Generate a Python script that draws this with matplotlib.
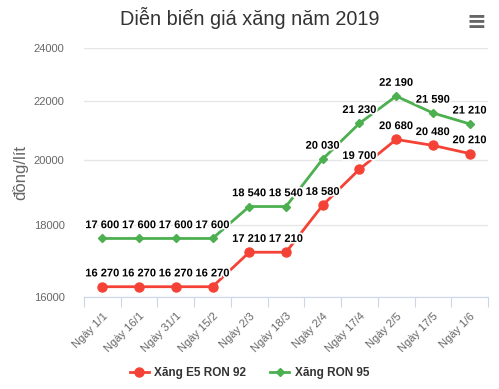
import matplotlib
matplotlib.use("Agg")
import matplotlib.pyplot as plt
import matplotlib.patheffects as pe
from matplotlib.ticker import FixedLocator, NullLocator, FuncFormatter
import numpy as np

plt.rcParams['font.family'] = ['Liberation Sans', 'DejaVu Sans']

# data
dates = ["Ngày 1/1", "Ngày 16/1", "Ngày 31/1", "Ngày 15/2", "Ngày 2/3", "Ngày 18/3",
         "Ngày 2/4", "Ngày 17/4", "Ngày 2/5", "Ngày 17/5", "Ngày 1/6"]
e5_ron92 = [16270, 16270, 16270, 16270, 17210, 17210, 18580, 19700, 20680, 20480, 20210]
ron95 = [17600, 17600, 17600, 17600, 18540, 18540, 20030, 21230, 22190, 21590, 21210]
y_ticks = [16000, 18000, 20000, 22000, 24000]

red = '#F44336'
green = '#4CAF50'

fig = plt.figure(figsize=(4.99, 3.89), dpi=100)
ax = fig.add_axes([84 / 499, 1 - 297 / 389, 404 / 499, 249 / 389])

x = np.arange(len(dates))
ax.plot(x, e5_ron92, color=red, lw=2, marker='o', ms=6.5, label='Xăng E5 RON 92', zorder=3)
ax.plot(x, ron95, color=green, lw=2, marker='D', ms=4.5, label='Xăng RON 95', zorder=3)


def fmt(v):
    return f"{v:,}".replace(",", " ")


# data labels with a white outline, like the original
outline = [pe.withStroke(linewidth=2.5, foreground='white')]
for series in (e5_ron92, ron95):
    for i, v in enumerate(series):
        ax.annotate(fmt(v), (i, v), xytext=(0, 6), textcoords='offset points',
                    ha='center', va='bottom', fontsize=8, fontweight='bold',
                    color='black', path_effects=outline, zorder=4)

# the y axis is logarithmic
ax.set_yscale('log')
ax.set_ylim(16000, 24000)
ax.yaxis.set_major_locator(FixedLocator(y_ticks))
ax.yaxis.set_minor_locator(NullLocator())
ax.yaxis.set_major_formatter(FuncFormatter(lambda v, p: f"{int(v)}"))

ax.set_xlim(-0.5, len(dates) - 0.5)
# tick marks sit between categories, labels at the category centres
ax.set_xticks(np.append(x - 0.5, len(dates) - 0.5))
ax.set_xticklabels([])
ax.set_xticks(x, minor=True)
ax.set_xticklabels(dates, minor=True, rotation=45, ha='right', rotation_mode='anchor')

ax.grid(axis='y', color='#e6e6e6', lw=1)
ax.set_axisbelow(True)
for s in ('top', 'right', 'left'):
    ax.spines[s].set_visible(False)
ax.spines['bottom'].set_color('#ccd6eb')
ax.tick_params(axis='y', length=0, labelsize=8, labelcolor='#666666', pad=14)
ax.tick_params(axis='x', which='major', length=7, color='#ccd6eb')
ax.tick_params(axis='x', which='minor', length=0, labelsize=8, labelcolor='#666666', pad=10)

ax.set_ylabel('đồng/lít', fontsize=12, color='#666666', labelpad=4)

fig.text(0.5, 1 - 18 / 389, 'Diễn biến giá xăng năm 2019', ha='center', va='center',
         fontsize=14.3, color='#333333')
fig.text(476 / 499, 1 - 22 / 389, '≡', ha='center', va='center', fontsize=17,
         color='#666666', fontweight='bold', family='DejaVu Sans')

leg = fig.legend(loc='center', bbox_to_anchor=(0.5, 1 - 373 / 389), ncol=2, frameon=False,
                 prop={'size': 8.5, 'weight': 'bold'}, handlelength=1.6, columnspacing=2.0,
                 handletextpad=0.5)
for t in leg.get_texts():
    t.set_color('#333333')

fig.savefig('out.png', dpi=100)
